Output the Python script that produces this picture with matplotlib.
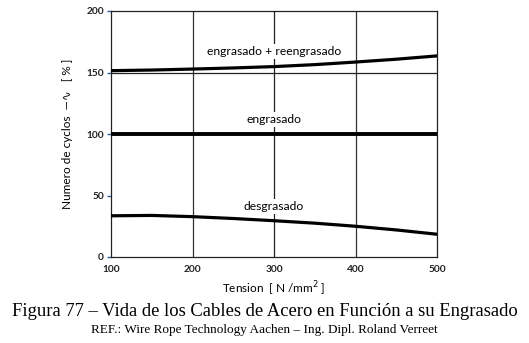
import matplotlib.pyplot as plt
import numpy as np

# tension points [N/mm2]
tension = [100, 150, 200, 250, 300, 350, 400, 450, 500]

# cycles relative to "engrasado" [%]
reengrasado = [151.5, 152.0, 152.8, 153.7, 154.8, 156.4, 158.5, 160.8, 163.5]
engrasado = [100, 100, 100, 100, 100, 100, 100, 100, 100]
desgrasado = [33.5, 33.8, 32.8, 31.3, 29.5, 27.5, 25.0, 22.0, 18.5]

x_ticks = [100, 200, 300, 400, 500]
y_ticks = [0, 50, 100, 150, 200]

fig = plt.figure(figsize=(5.29, 3.43), dpi=100)
ax = fig.add_axes([111 / 529, 1 - 257 / 343, 326 / 529, 246 / 343])

ui = ['Lato', 'DejaVu Sans']

# grid lines
for xv in [200, 400]:
    ax.axvline(xv, color='#333333', lw=0.9, zorder=1)
ax.axvline(300, color='#222222', lw=0.9, zorder=1)
ax.axhline(150, color='#222222', lw=0.9, zorder=1)

ax.plot(tension, reengrasado, color='black', lw=2.3, zorder=3)
ax.plot(tension, engrasado, color='black', lw=2.8, zorder=3)
ax.plot(tension, desgrasado, color='black', lw=2.3, zorder=3)

box = dict(facecolor='white', edgecolor='none', pad=1.5)
ax.text(300, 167, 'engrasado + reengrasado', ha='center', va='center',
        fontsize=8.7, family=ui, bbox=box, zorder=4)
ax.text(300, 112, 'engrasado', ha='center', va='center',
        fontsize=8.7, family=ui, bbox=box, zorder=4)
ax.text(300, 41, 'desgrasado', ha='center', va='center',
        fontsize=8.7, family=ui, bbox=box, zorder=4)

ax.set_xlim(100, 500)
ax.set_ylim(0, 200)
ax.set_xticks(x_ticks)
ax.set_yticks(y_ticks)
ax.tick_params(axis='y', length=3, width=1, color='#2f5f9f', pad=2)
ax.tick_params(axis='x', length=0, pad=6)
for lab in ax.get_xticklabels() + ax.get_yticklabels():
    lab.set_family(ui)
    lab.set_fontsize(7.3)
    lab.set_fontweight('bold')
    lab.set_color('#222222')
for sp in ax.spines.values():
    sp.set_color('#222222')
    sp.set_linewidth(0.9)

ax.set_xlabel('Tension  [ N /mm$^2$ ]', family=ui, fontsize=8.5, labelpad=4)
ax.set_ylabel('Numero de cyclos  —\u223f   [ % ]', family=ui, fontsize=8.5, labelpad=10)

fig.text(0.5, 1 - 312 / 343, 'Figura 77 \u2013 Vida de los Cables de Acero en Funci\u00f3n a su Engrasado',
         ha='center', va='center', family='Liberation Serif', fontsize=13.4)
fig.text(0.5, 1 - 330 / 343, 'REF.: Wire Rope Technology Aachen \u2013 Ing. Dipl. Roland Verreet',
         ha='center', va='center', family='Liberation Serif', fontsize=9.5)

fig.savefig('out.png', dpi=100)
